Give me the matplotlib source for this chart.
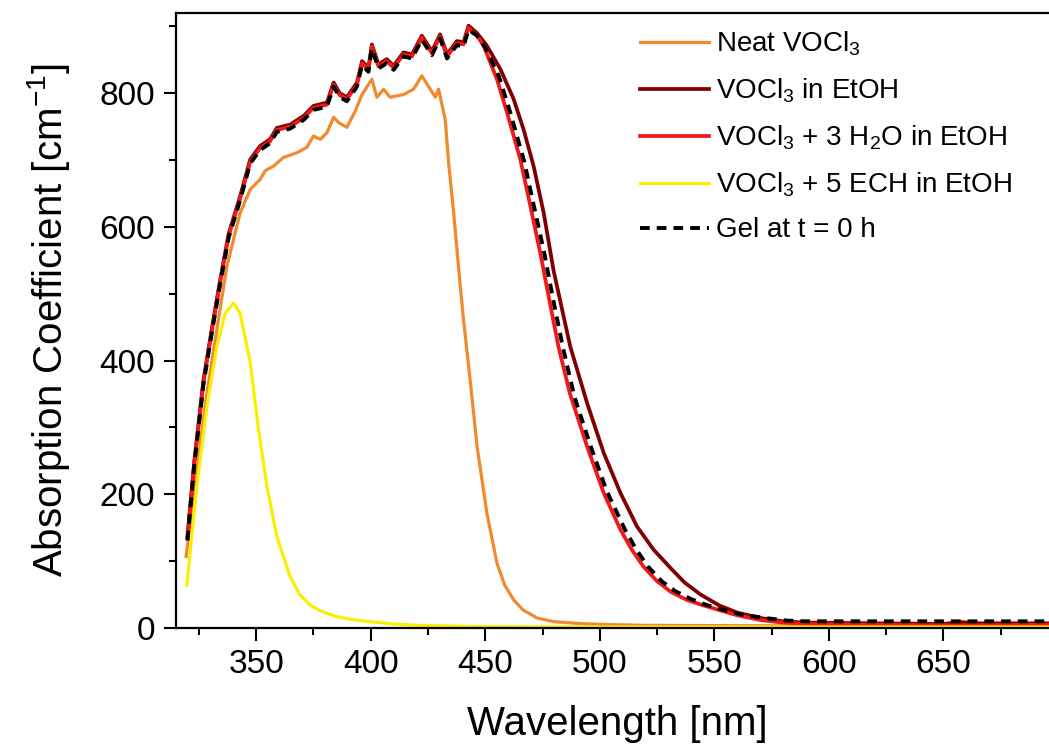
import matplotlib
matplotlib.use("Agg")
import matplotlib.pyplot as plt
import numpy as np

plt.rcParams['font.family'] = ['Liberation Sans', 'DejaVu Sans']
plt.rcParams['mathtext.fontset'] = 'custom'
plt.rcParams['mathtext.rm'] = 'Liberation Sans'
plt.rcParams['mathtext.default'] = 'regular'

# shared rising edge + plateau of the three EtOH solutions / gel
rise_wl = [320, 323, 327, 331, 334.3, 338, 343, 347.4, 351.7, 356, 359, 364.8, 370.7,
           375, 380.9, 383.8, 386.5, 389.6, 394, 396.2, 399, 400.5, 403.4, 407, 410,
           414.3, 418, 422.3, 426.7, 430.3, 433.3, 437.6, 440.5, 442.7]
rise_abs = [137, 250, 371, 455, 521, 590, 646, 701, 721, 731, 748, 753, 766,
            781, 786, 816, 800, 794, 816, 848, 838, 873, 843, 851, 841,
            861, 858, 886, 863, 888, 858, 878, 876, 901]

# falling edges
h2o_wl = [446.4, 449.3, 455.1, 459.5, 465.3, 469.7, 474, 478, 482, 487, 494.4, 501.7,
          509, 514, 519, 525, 531, 538, 545, 552, 560, 570, 580, 590, 620, 660, 700]
h2o_abs = [886, 871, 821, 771, 701, 631, 561, 490, 420, 350, 272, 202,
           147, 117, 92, 70, 54, 42, 34, 27, 19, 12, 8, 6, 5, 4, 5]

etoh_wl = [446.4, 450.7, 456.6, 462.4, 466.7, 471.1, 475.5, 479.8, 484.2, 487.1, 494.4,
           501.7, 509, 516.2, 523.5, 530.8, 537, 544, 552, 560, 570, 580, 590, 620,
           650, 657, 665, 700]
etoh_abs = [890, 871, 836, 791, 746, 691, 621, 535, 466, 421, 337,
            262, 202, 152, 117, 90, 68, 50, 34, 23, 15, 10, 8, 7,
            6, 9, 7, 7]

gel_wl = [446.4, 450, 456, 461, 467, 471, 475.5, 480, 484, 489, 496, 503, 511, 516,
          521, 527, 533, 540, 547, 554, 562, 572, 582, 590, 640, 700]
gel_abs = [886, 868, 825, 770, 698, 635, 565, 485, 418, 345, 272, 205, 147, 117,
           92, 70, 55, 43, 34, 27, 20, 15, 11, 10, 10, 10]

neat_wl = [319.4, 324, 328, 333, 337.2, 343, 347.4, 351.7, 353.9, 357.6, 361.9, 367.8,
           372.1, 375, 378, 380.9, 383.8, 386, 389.6, 393.2, 396.2, 400.5, 402.7, 405.6,
           408.5, 414.3, 418.7, 422.3, 426, 428.2, 429.6, 432.5, 434, 436.2, 439.1, 440.5,
           443.4, 446.4, 450.7, 455.1, 458.5, 462.4, 466.5, 472.6, 480, 491.5, 505, 520,
           600, 700]
neat_abs = [107, 230, 340, 450, 541, 621, 656, 671, 684, 691, 704, 711,
            719, 736, 731, 741, 764, 756, 749, 773, 798, 821, 794, 806,
            794, 798, 806, 826, 806, 794, 806, 761, 696, 621, 511, 461,
            371, 272, 172, 97, 64, 42, 27, 15, 9.5, 6.5, 5, 4, 3, 3]

ech_wl = [319.7, 324.1, 328.5, 332.8, 336.5, 340.1, 343, 347.4, 351, 354.7, 359, 364.8,
          369, 373.6, 379, 385.2, 392, 399.8, 410, 420, 450, 500, 600, 700]
ech_abs = [64, 212, 332, 421, 471, 486, 471, 397, 297, 212, 137, 77,
           50, 34, 24, 17, 12.5, 9.5, 6, 4, 2, 1.5, 1.5, 1.5]

labels = ['Neat VOCl$_3$', 'VOCl$_3$ in EtOH', 'VOCl$_3$ + 3 H$_2$O in EtOH',
          'VOCl$_3$ + 5 ECH in EtOH', 'Gel at t = 0 h']

fig = plt.figure(figsize=(10.49, 7.5), dpi=100)
ax = fig.add_axes([176 / 1049, 122 / 750, (1058 - 176) / 1049, 615 / 750])

ax.plot(neat_wl, neat_abs, color='#F08A2C', lw=2.3, label=labels[0])
ax.plot(rise_wl + etoh_wl, rise_abs + etoh_abs, color='#800000', lw=2.7, label=labels[1])
ax.plot(rise_wl + h2o_wl, list(np.array(rise_abs) - 3) + h2o_abs, color='#F01818', lw=2.7,
        label=labels[2])
ax.plot(ech_wl, ech_abs, color='#F8F000', lw=2.3, label=labels[3])
ax.plot(rise_wl + gel_wl, list(np.array(rise_abs) - 6) + gel_abs, color='black', lw=2.8,
        ls=(0, (2.5, 1.8)), label=labels[4])

ax.set_xlim(315, 700)
ax.set_ylim(0, 920)
ax.set_xticks([350, 400, 450, 500, 550, 600, 650])
ax.set_xticks(np.arange(325, 700, 50), minor=True)
ax.set_yticks([0, 200, 400, 600, 800])
ax.set_yticks([100, 300, 500, 700, 900], minor=True)
ax.tick_params(which='major', length=9, width=1.5, labelsize=24, pad=6)
ax.tick_params(which='minor', length=5, width=1.5)
for s in ax.spines.values():
    s.set_linewidth(1.6)

ax.set_xlabel('Wavelength [nm]', fontsize=29, labelpad=18)
ax.set_ylabel('Absorption Coefficient [cm$^{-1}$]', fontsize=29, labelpad=20)

leg = ax.legend(loc='upper left', bbox_to_anchor=(626 / 1049, 1 - 16 / 750),
                bbox_transform=fig.transFigure, frameon=False, fontsize=20,
                handlelength=2.5, handletextpad=0.25, labelspacing=0.66, borderpad=0)

fig.savefig('out.png', dpi=100)
